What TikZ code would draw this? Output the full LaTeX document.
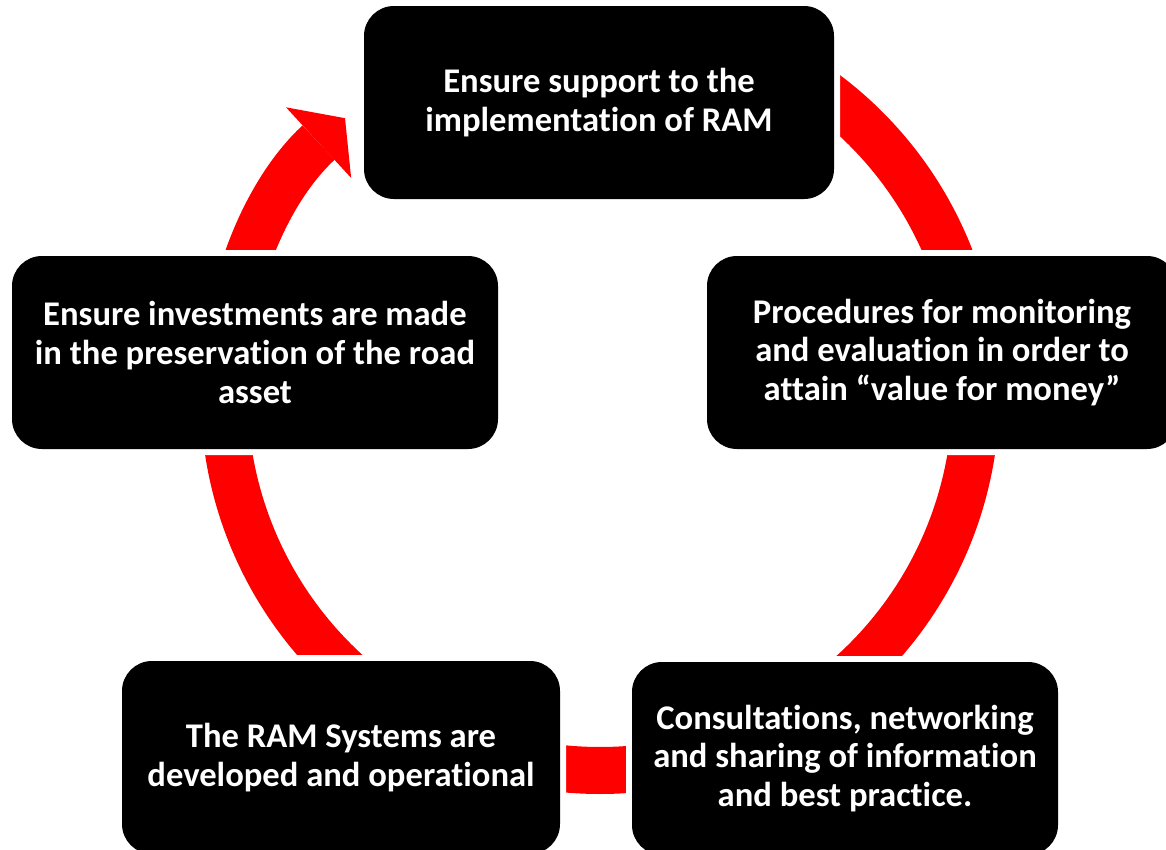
\documentclass[tikz,border=0pt]{standalone}
\usepackage{fontspec}
\setmainfont{Carlito}[Ligatures=NoCommon]
\usetikzlibrary{arrows.meta,positioning}

\begin{document}
\begin{tikzpicture}[
    ring/.style={draw=red,line width=0.94cm},
    stage/.style={rectangle,rounded corners=0.6cm,fill=black,
      preaction={draw=white,line width=0.24cm},
      minimum height=3.86cm,inner sep=0pt,text=white,align=center,
      font=\bfseries\fontsize{19.7pt}{22pt}\selectfont}
  ]
  \useasboundingbox (0,0) rectangle (23.32,-17);
  \clip (0,0) rectangle (23.32,-17);
  \coordinate (c) at (12,-7.89);

  % red ring, one piece between two boxes
  \draw[ring] (c) ++(60:7.52) arc[start angle=60,end angle=15,radius=7.52];
  \draw[ring] (c) ++(-3:7.52) arc[start angle=-3,end angle=-52,radius=7.52];
  \draw[ring] (c) ++(-60:7.52) arc[start angle=-60,end angle=-120,radius=7.52];
  \draw[ring] (c) ++(-128:7.52) arc[start angle=-128,end angle=-177,radius=7.52];
  \draw[ring,-{Triangle[length=0.72cm,width=1.92cm,line width=0pt]}] (c) ++(183:7.52) arc[start angle=183,end angle=132.7,radius=7.52];

  \node[stage,minimum width=9.4cm] (ens) at (11.98,-2.05) {Ensure support to the\\implementation of RAM};
  \node[stage,minimum width=9.4cm] (proc) at (18.84,-7.05) {Procedures for monitoring\\and evaluation in order to\\attain “value for money”};
  \node[stage,minimum width=9.72cm] (inv) at (5.10,-7.05) {Ensure investments are made\\in the preservation of the road\\asset};
  \node[stage,minimum width=8.76cm] (sys) at (6.82,-15.15) {The RAM Systems are\\developed and operational};
  \node[stage,minimum width=8.52cm] (cons) at (16.90,-15.17) {Consultations, networking\\and sharing of information\\and best practice.};

\end{tikzpicture}
\end{document}
